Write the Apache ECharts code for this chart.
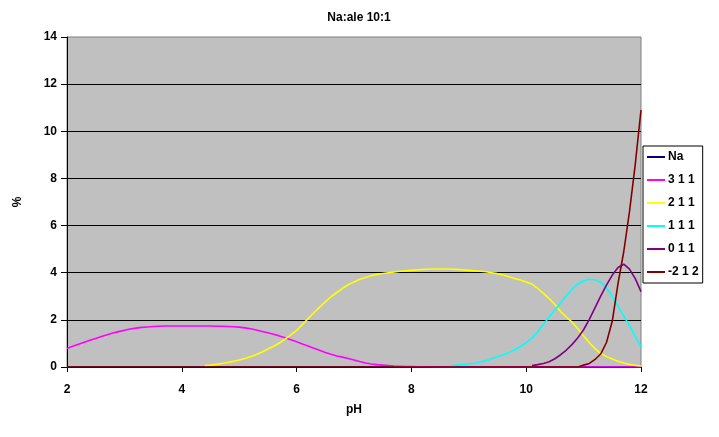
<!DOCTYPE html>
<html>
<head>
<meta charset="utf-8">
<script src="https://cdn.jsdelivr.net/npm/echarts@6/dist/echarts.min.js"></script>
<style>html,body{margin:0;padding:0;background:#fff}#c{width:719px;height:437px}</style>
</head>
<body>
<div id="c"></div>
<script>
// pH values 2.0 .. 12.0 step 0.1
const ph = [];
for (let i = 0; i <= 100; i++) ph.push(+(2 + i * 0.1).toFixed(1));

const seriesNames = ['Na', '3 1 1', '2 1 1', '1 1 1', '0 1 1', '-2 1 2'];
const seriesColors = ['#000080', '#FF00FF', '#FFFF00', '#00FFFF', '#800080', '#800000'];

const na = [0,0,0,0,0,0,0,0,0,0, 0,0,0,0,0,0,0,0,0,0, 0,0,0,0,0,0,0,0,0,0, 0,0,0,0,0,0,0,0,0,0, 0,0,0,0,0,0,0,0,0,0, 0,0,0,0,0,0,0,0,0,0, 0,0,0,0,0,0,0,0,0,0, 0,0,0,0,0,0,0,0,0,0, 0,0,0,0,0,0,0,0,0,0, 0,0,0,0,0,0,0,0,0,0, 0];

const s311 = [
 0.79,0.88,0.97,1.05,1.13,1.21,1.29,1.37,1.44,1.50,
 1.56,1.61,1.65,1.68,1.70,1.72,1.73,1.74,1.74,1.74,
 1.74,1.74,1.74,1.74,1.74,1.74,1.73,1.73,1.72,1.71,
 1.69,1.66,1.62,1.57,1.51,1.45,1.39,1.32,1.24,1.16,
 1.07,0.98,0.89,0.80,0.71,0.62,0.54,0.47,0.42,0.36,
 0.30,0.23,0.17,0.13,0.10,0.08,0.06,0.04,0.03,0.02,
 0.02,0.01,0.01,0.01,0,0,0,0,0,0,
 0,0,0,0,0,0,0,0,0,0,
 0,0,0,0,0,0,0,0,0,0,
 0,0,0,0,0,0,0,0,0,0,
 0];

const s211 = [
 null,null,null,null,null,null,null,null,null,null,
 null,null,null,null,null,null,null,null,null,null,
 null,null,null,null,0.06,0.08,0.11,0.15,0.19,0.24,
 0.30,0.36,0.44,0.53,0.64,0.76,0.88,1.02,1.18,1.36,
 1.55,1.80,2.05,2.30,2.54,2.76,2.98,3.16,3.34,3.49,
 3.61,3.72,3.80,3.87,3.93,3.97,4.00,4.03,4.06,4.08,
 4.10,4.12,4.14,4.15,4.16,4.16,4.16,4.15,4.14,4.12,
 4.10,4.08,4.06,4.04,4.00,3.96,3.90,3.83,3.75,3.69,
 3.61,3.52,3.34,3.12,2.90,2.65,2.35,2.12,1.90,1.62,
 1.33,1.03,0.78,0.57,0.44,0.34,0.24,0.17,0.11,0.07,
 0.04];

const s111 = [
 null,null,null,null,null,null,null,null,null,null,
 null,null,null,null,null,null,null,null,null,null,
 null,null,null,null,null,null,null,null,null,null,
 null,null,null,null,null,null,null,null,null,null,
 null,null,null,null,null,null,null,null,null,null,
 null,null,null,null,null,null,null,null,null,null,
 null,null,null,null,null,null,null,0.06,0.08,0.10,
 0.13,0.16,0.21,0.27,0.35,0.43,0.52,0.62,0.73,0.87,
 1.03,1.22,1.50,1.80,2.12,2.42,2.72,3.02,3.30,3.52,
 3.65,3.72,3.70,3.60,3.35,3.00,2.58,2.16,1.75,1.30,
 0.85];

const s011 = [
 null,null,null,null,null,null,null,null,null,null,
 null,null,null,null,null,null,null,null,null,null,
 null,null,null,null,null,null,null,null,null,null,
 null,null,null,null,null,null,null,null,null,null,
 null,null,null,null,null,null,null,null,null,null,
 null,null,null,null,null,null,null,null,null,null,
 null,null,null,null,null,null,null,null,null,null,
 null,null,null,null,null,null,null,null,null,null,
 null,0.06,0.10,0.15,0.22,0.35,0.52,0.72,0.96,1.24,
 1.58,2.02,2.52,3.02,3.48,3.90,4.22,4.36,4.15,3.75,
 3.20];

const s212 = [
 0,0,0,0,0,0,0,0,0,0, 0,0,0,0,0,0,0,0,0,0,
 0,0,0,0,0,0,0,0,0,0, 0,0,0,0,0,0,0,0,0,0,
 0,0,0,0,0,0,0,0,0,0, 0,0,0,0,0,0,0,0,0,0,
 0,0,0,0,0,0,0,0,0,0, 0,0,0,0,0,0,0,0,0,0,
 0,0,0,0,0,0,0,0,0,0,
 0.08,0.15,0.32,0.56,1.05,1.95,3.55,4.90,6.60,8.60,
 10.90];

const yTicks = [0, 14, 2];
const xTicks = [2, 12, 2];

const allData = [na, s311, s211, s111, s011, s212];
const font = 'Liberation Sans, Arial, sans-serif';

const chart = echarts.init(document.getElementById('c'), null, {renderer: 'canvas'});
chart.setOption({
  animation: false,
  backgroundColor: '#ffffff',
  title: {
    text: 'Na:ale 10:1',
    left: 354, top: 7, textAlign: 'center',
    textStyle: {fontFamily: font, fontSize: 12, fontWeight: 'bold', color: '#000'}
  },
  grid: {
    left: 67, right: 78, top: 37, bottom: 70,
    show: true, backgroundColor: '#c0c0c0', borderColor: '#808080', borderWidth: 1
  },
  legend: {
    orient: 'vertical', left: 643, top: 146,
    backgroundColor: '#ffffff', borderColor: '#000', borderWidth: 1,
    padding: [5, 4, 5, 4], itemGap: 11, itemWidth: 18, itemHeight: 2,
    icon: 'rect',
    textStyle: {fontFamily: font, fontSize: 12, fontWeight: 'bold', color: '#000', padding: [0, 0, 0, -2]},
    data: seriesNames
  },
  xAxis: {
    type: 'value', min: xTicks[0], max: xTicks[1], interval: xTicks[2],
    name: 'pH', nameLocation: 'middle', nameGap: 37,
    nameTextStyle: {fontFamily: font, fontSize: 12, fontWeight: 'bold', color: '#000'},
    axisLine: {show: true, onZero: false, lineStyle: {color: '#000', width: 1}},
    axisTick: {show: true, inside: false, length: 5, lineStyle: {color: '#000'}},
    axisLabel: {margin: 17, fontFamily: font, fontSize: 12, fontWeight: 'bold', color: '#000'},
    splitLine: {show: false}
  },
  yAxis: {
    type: 'value', min: yTicks[0], max: yTicks[1], interval: yTicks[2],
    name: '%', nameLocation: 'middle', nameGap: 43,
    nameTextStyle: {fontFamily: font, fontSize: 12, fontWeight: 'bold', color: '#000'},
    axisLine: {show: true, lineStyle: {color: '#000', width: 1}},
    axisTick: {show: true, inside: false, length: 6, lineStyle: {color: '#000'}},
    axisLabel: {margin: 10, fontFamily: font, fontSize: 12, fontWeight: 'bold', color: '#000'},
    splitLine: {show: true, showMinLine: false, showMaxLine: false, lineStyle: {color: '#000', width: 1}}
  },
  series: seriesNames.map((n, k) => ({
    name: n, type: 'line', showSymbol: false, symbol: 'none',
    lineStyle: {color: seriesColors[k], width: 1.6},
    itemStyle: {color: seriesColors[k]},
    connectNulls: false,
    data: ph.map((p, i) => [p, allData[k][i]])
  }))
});
</script>
</body>
</html>
